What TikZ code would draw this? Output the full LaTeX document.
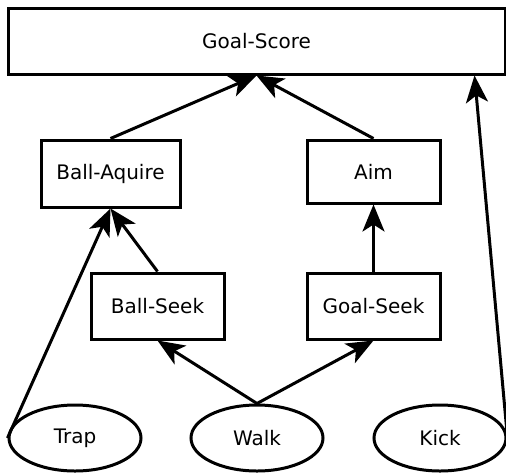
\documentclass[tikz,border=0pt]{standalone}
\usepackage{fontspec}
\setmainfont{DejaVu Sans}
\usetikzlibrary{arrows.meta, positioning, shapes.geometric, calc}

\begin{document}
\begin{tikzpicture}[
    line width=3pt,
    link/.style={-{Stealth[length=27pt, width=22pt, inset=7pt]}},
    task/.style={draw, rectangle, inner sep=0pt, font=\fontsize{20}{24}\selectfont},
    prim/.style={draw, ellipse, inner sep=0pt, minimum width=132pt, minimum height=66pt, font=\fontsize{20}{24}\selectfont}
]
\useasboundingbox (0pt,0pt) rectangle (506pt,-475pt);

% Top goal
\node[task, minimum width=497pt, minimum height=66pt] (score) at (256.5pt,-41pt) {Goal-Score};

% Middle tasks
\node[task, minimum width=139pt, minimum height=67pt] (aquire) at (110.5pt,-173.5pt) {Ball-Aquire};
\node[task, minimum width=133pt, minimum height=63pt] (aim) at (373.5pt,-171.5pt) {Aim};
\node[task, minimum width=133pt, minimum height=66pt] (seek) at (157.5pt,-306pt) {Ball-Seek};
\node[task, minimum width=133pt, minimum height=66pt] (goalseek) at (373.5pt,-306pt) {Goal-Seek};

% Primitives
\node[prim] (trap) at (75pt,-438pt) {Trap};
\node[prim] (walk) at (257pt,-438pt) {Walk};
\node[prim] (kick) at (440pt,-438pt) {Kick};

\draw[link] (aquire.north) -- (score.south);
\draw[link] (aim.north) -- (score.south);
\draw[link] (kick.east) -- ($(score.south east)+(-32pt,0pt)$);
\draw[link] (trap.west) -- (aquire.south);
\draw[link] (seek.north) -- (aquire.south);
\draw[link] (goalseek.north) -- (aim.south);
\draw[link] (walk.north) -- (seek.south);
\draw[link] (walk.north) -- (goalseek.south);

\end{tikzpicture}
\end{document}
